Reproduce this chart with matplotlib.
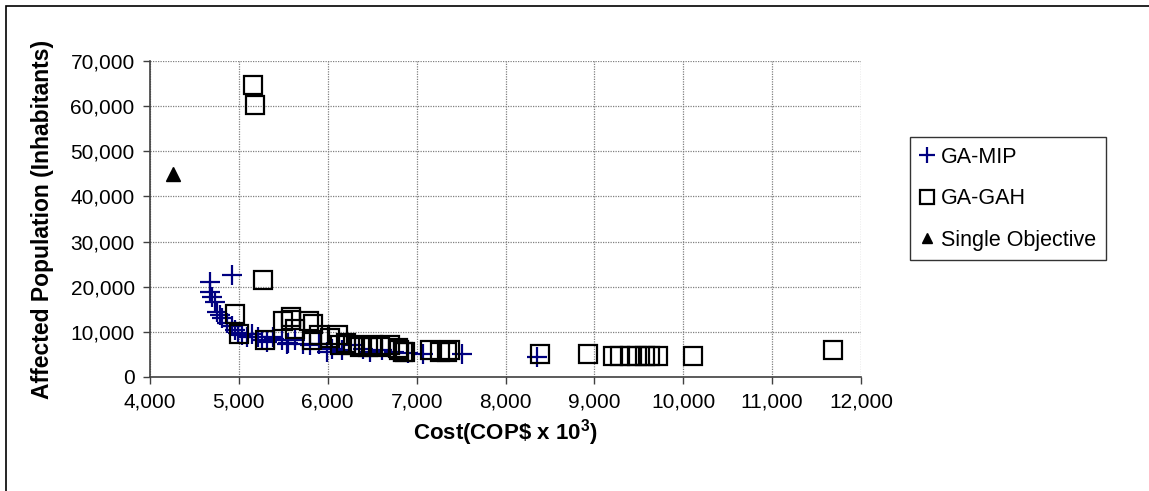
import matplotlib
matplotlib.use('Agg')
from matplotlib import pyplot as plt
from matplotlib.patches import Rectangle
import matplotlib.ticker as plticker

plt.rcParams['font.family'] = ['Liberation Sans', 'DejaVu Sans']

# GA-MIP pareto front (cost in thousands of COP$, affected inhabitants)
mipCost = [4675, 4919, 4675, 4694, 4731, 4750, 4787, 4806, 4862, 4919,
           4956, 4994, 5031, 5088, 5218, 5256, 5312, 5387, 5481, 5556,
           5537, 5631, 5724, 5800, 5987, 6156, 6306, 6475, 6606, 6750,
           7074, 7506, 8349, 5150, 5400, 5900, 6050, 6400, 6900]
mipPop = [21100, 22600, 18900, 17800, 16700, 14500, 13700, 13000, 11900, 11200,
          10400, 9700, 9300, 8900, 8900, 8200, 7800, 8900, 8200, 7500,
          7400, 8200, 7400, 7000, 5600, 6000, 7100, 5600, 6000, 5600,
          5000, 5000, 4500, 9600, 8400, 7200, 6300, 6200, 5400]

# GA-GAH pareto front
gahCost = [5160, 5180, 5270, 4960, 5000, 5290, 5493, 5586, 5631, 5792,
           5837, 5819, 5905, 6025, 6119, 6137, 6287, 6362, 6512, 6587,
           6700, 6793, 6850, 6868, 7150, 7262, 7337, 7375, 8387, 8930,
           9211, 9287, 9400, 9475, 9568, 9624, 9718, 10111, 11686, 5586,
           6200, 6450, 6800]
gahPop = [64700, 60200, 21400, 13900, 9500, 8200, 12300, 12600, 10600, 12300,
          11700, 8200, 9300, 8600, 9300, 7100, 7100, 6700, 7100, 6700,
          7100, 6400, 5600, 5600, 6000, 5600, 5600, 6000, 5100, 5100,
          4700, 4700, 4700, 4700, 4700, 4700, 4700, 4700, 6000, 13400,
          7600, 6600, 6000]

# single objective optimum
singleCost = [4260]
singlePop = [45000]

fig = plt.figure(figsize=(11.49, 4.91), dpi=100)
axis = fig.add_axes([150 / 1149, 1 - 377 / 491, 711 / 1149, 316 / 491])

axis.plot(mipCost, mipPop, linestyle='none', marker='+', markersize=14.5,
          markeredgewidth=1.6, color='#000080', label='GA-MIP', zorder=3)
axis.plot(gahCost, gahPop, linestyle='none', marker='s', markersize=13,
          markeredgewidth=1.6, markerfacecolor='none', markeredgecolor='black',
          label='GA-GAH', zorder=4)
axis.plot(singleCost, singlePop, linestyle='none', marker='^', markersize=10,
          color='black', label='Single Objective', zorder=5)

axis.set_xlim(4000, 12000)
axis.set_ylim(0, 70000)
axis.xaxis.set_major_locator(plticker.MultipleLocator(1000))
axis.yaxis.set_major_locator(plticker.MultipleLocator(10000))
fmt = plticker.FuncFormatter(lambda v, p: '{:,.0f}'.format(v))
axis.xaxis.set_major_formatter(fmt)
axis.yaxis.set_major_formatter(fmt)
axis.tick_params(direction='out', length=5, width=1, color='#404040',
                 labelsize=15, pad=6)

axis.grid(True, color='#808080', linestyle=(0, (1, 1)), linewidth=0.9)
axis.set_axisbelow(True)
for side in ['top', 'right']:
    axis.spines[side].set_visible(False)
for side in ['left', 'bottom']:
    axis.spines[side].set_color('#404040')
    axis.spines[side].set_linewidth(1.2)

axis.set_xlabel('Cost(COP\\$ x 10$^\\mathregular{3}$)', fontsize=16,
                fontweight='bold', labelpad=4)
axis.set_ylabel('Affected Population (Inhabitants)', fontsize=16.5,
                fontweight='bold', labelpad=12)

legend = fig.legend(loc='upper left', bbox_to_anchor=(910 / 1149, 1 - 137 / 491),
                    fontsize=15.5, frameon=True, fancybox=False, handlelength=0.7,
                    handletextpad=0.3, borderpad=0.45, labelspacing=0.95,
                    markerscale=0.75, borderaxespad=0)
legend.get_frame().set_edgecolor('black')
legend.get_frame().set_linewidth(1)

# chart border
fig.patches.append(Rectangle((6 / 1149, -0.1), 1.2, 1 - 6 / 491 + 0.1,
                             transform=fig.transFigure, fill=False,
                             edgecolor='black', linewidth=1.2))

plt.savefig('out.png', dpi=100)
